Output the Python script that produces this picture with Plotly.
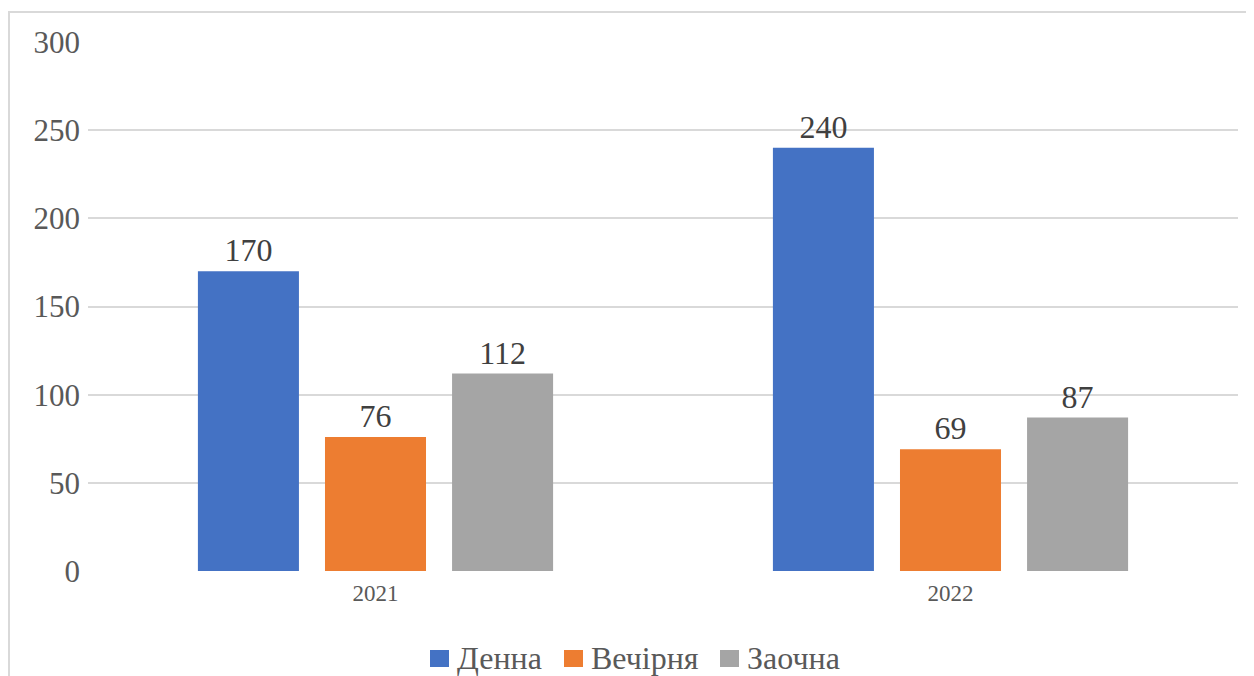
import plotly.graph_objects as go

categories = ["2021", "2022"]
series_names = ["Денна", "Вечірня", "Заочна"]
denna = [170, 240]
vechirnia = [76, 69]
zaochna = [112, 87]
colors = ["#4472C4", "#ED7D31", "#A5A5A5"]
y_ticks = [0, 50, 100, 150, 200, 250, 300]

font_family = "Liberation Serif"

OFF = 8  # page body margin in the browser
W, H = 1254, 676
# target screen positions of plot area
SL, SR, ST, SB = 88, 1238, 42, 571
L, T = SL - OFF, ST - OFF
R = W - (SR - OFF)
B = H - (SB - OFF)
PW, PH = SR - SL, SB - ST


def px_x(px):
    return (px - SL) / PW


def px_y(py):
    return (SB - py) / PH


fig = go.Figure()
for name, vals, col in zip(series_names, [denna, vechirnia, zaochna], colors):
    fig.add_trace(go.Bar(
        x=categories, y=vals, name=name, marker=dict(color=col, line=dict(width=0)),
        text=[str(v) for v in vals], textposition="outside",
        textfont=dict(family=font_family, size=32, color="#404040"),
        cliponaxis=False, showlegend=False,
    ))

# manual legend (larger square swatches like the original)
legend_items = [(430, 455), (564, 589), (720, 745)]
shapes = [dict(type="rect", xref="paper", yref="paper", x0=px_x(9), x1=1.2,
               y0=-0.5, y1=px_y(12), line=dict(color="#D9D9D9", width=2),
               fillcolor="rgba(0,0,0,0)", layer="below")]
annotations = []
for (sx, tx), name, col in zip(legend_items, series_names, colors):
    shapes.append(dict(type="rect", xref="paper", yref="paper",
                       x0=px_x(sx), x1=px_x(sx + 19), y0=px_y(667), y1=px_y(650),
                       line=dict(width=0), fillcolor=col))
    annotations.append(dict(xref="paper", yref="paper", x=px_x(tx), y=px_y(658),
                            xanchor="left", yanchor="middle", showarrow=False,
                            text=name, font=dict(family=font_family, size=32, color="#595959")))

fig.update_layout(
    width=W, height=H,
    margin=dict(l=L, r=R, t=T, b=B, autoexpand=False),
    paper_bgcolor="white", plot_bgcolor="white",
    barmode="group", bargap=0.337, bargroupgap=0.205,
    font=dict(family=font_family, color="#595959"),
    showlegend=False,
    xaxis=dict(showgrid=False, zeroline=False, showline=False, ticks="", automargin=False,
               tickfont=dict(family=font_family, size=23, color="#595959"),
               ticklabelstandoff=6),
    yaxis=dict(range=[0, 300], tickvals=y_ticks, showgrid=True, gridcolor="#D9D9D9",
               gridwidth=1.5, zeroline=False, showline=False, ticks="", automargin=False,
               tickfont=dict(family=font_family, size=31, color="#595959"),
               ticklabelstandoff=7),
    shapes=shapes,
    annotations=annotations,
)

fig.write_html("out.html")
